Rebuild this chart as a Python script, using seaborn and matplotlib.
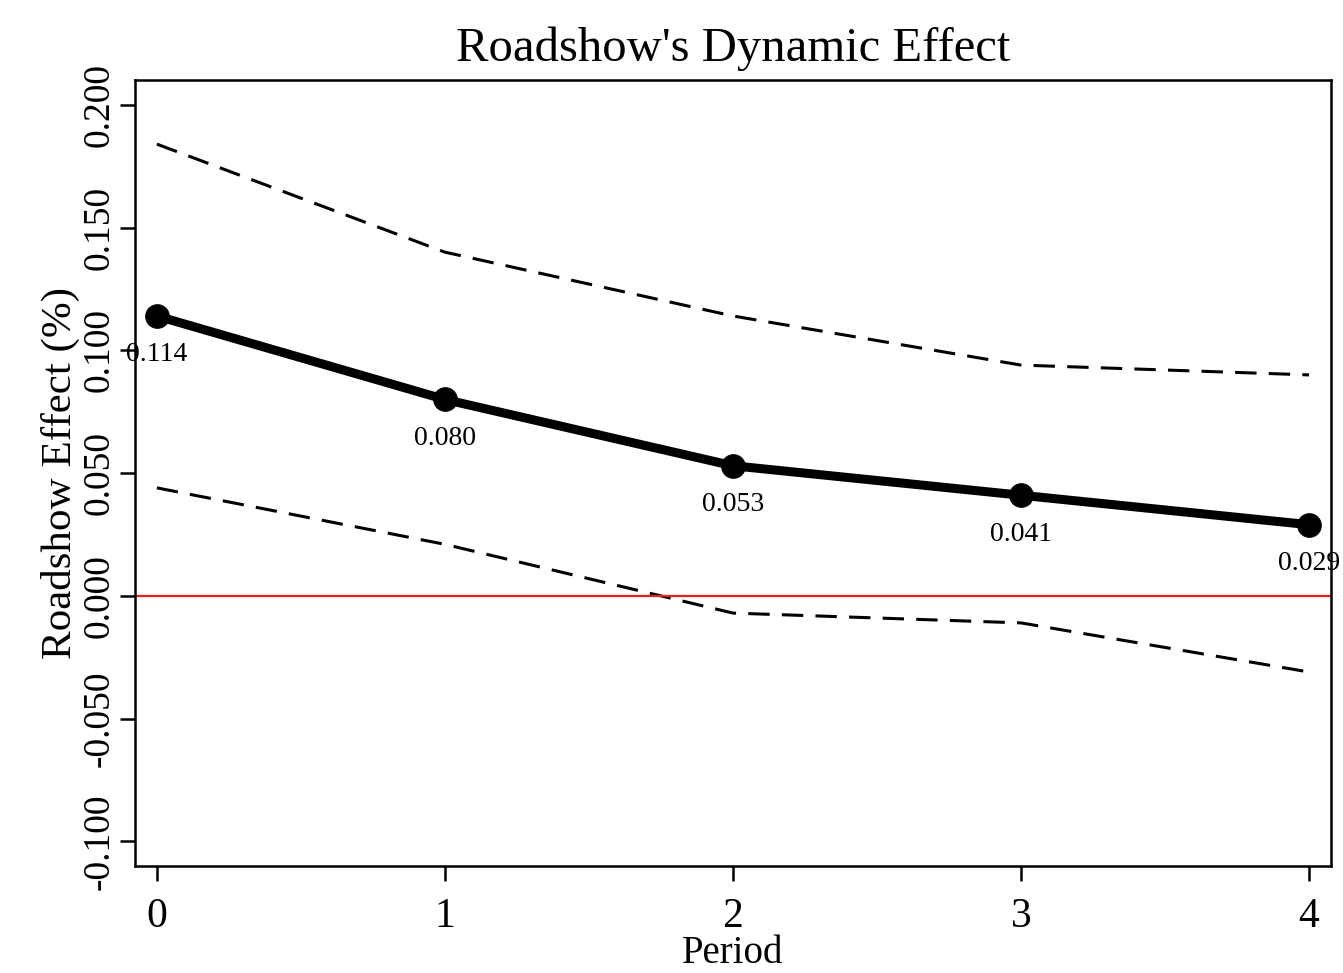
import numpy as np
import pandas as pd
import matplotlib
matplotlib.use('Agg')
import matplotlib.pyplot as plt
import seaborn as sns

# values
period = [0, 1, 2, 3, 4]
effect = [0.114, 0.080, 0.053, 0.041, 0.029]
upper = [0.184, 0.140, 0.114, 0.094, 0.090]
lower = [0.044, 0.021, -0.007, -0.011, -0.031]
effect_labels = ['0.114', '0.080', '0.053', '0.041', '0.029']
ytick_vals = [-0.100, -0.050, 0.000, 0.050, 0.100, 0.150, 0.200]

df = pd.DataFrame({'Period': period, 'Effect': effect, 'Upper': upper, 'Lower': lower})

sns.set_style('white')
plt.rcParams['font.family'] = ['Liberation Serif', 'DejaVu Serif']
plt.rcParams['text.color'] = 'black'
plt.rcParams['axes.labelcolor'] = 'black'
plt.rcParams['xtick.color'] = 'black'
plt.rcParams['ytick.color'] = 'black'

fig = plt.figure(figsize=(13.43, 9.73), dpi=100)
ax = fig.add_axes([0.1005, 0.110, 0.8905, 0.8075])

sns.lineplot(data=df, x='Period', y='Upper', ax=ax, color='black', linewidth=2.2,
             linestyle=(0, (7, 4)))
sns.lineplot(data=df, x='Period', y='Lower', ax=ax, color='black', linewidth=2.2,
             linestyle=(0, (7, 4)))
ax.axhline(0, color='#e8201c', linewidth=1.6)
sns.lineplot(data=df, x='Period', y='Effect', ax=ax, color='black', linewidth=6.5,
             marker='o', markersize=17, markeredgecolor='black')

for x, y, s in zip(period, effect, effect_labels):
    ax.annotate(s, (x, y), xytext=(0, -28), textcoords='offset points',
                ha='center', va='center', fontsize=20, clip_on=False)

ax.set_xlim(-0.076, 4.076)
ax.set_ylim(-0.110, 0.210)
ax.set_xticks(period)
ax.set_yticks(ytick_vals)
ax.set_xticklabels([str(p) for p in period], fontsize=30)
ax.set_yticklabels([f'{v:.3f}' for v in ytick_vals], fontsize=27, rotation=90, va='center')
ax.tick_params(axis='both', direction='out', length=11, width=1.8,
               bottom=True, left=True)
ax.tick_params(axis='x', pad=12)
ax.tick_params(axis='y', pad=2.5)

for sp in ax.spines.values():
    sp.set_color('black')
    sp.set_linewidth(1.8)

ax.set_xlabel('Period', fontsize=28, labelpad=-1)
ax.set_ylabel('Roadshow Effect (%)', fontsize=31, labelpad=1)
ax.set_title("Roadshow's Dynamic Effect", fontsize=35, pad=14)

fig.savefig('out.png', dpi=100)
